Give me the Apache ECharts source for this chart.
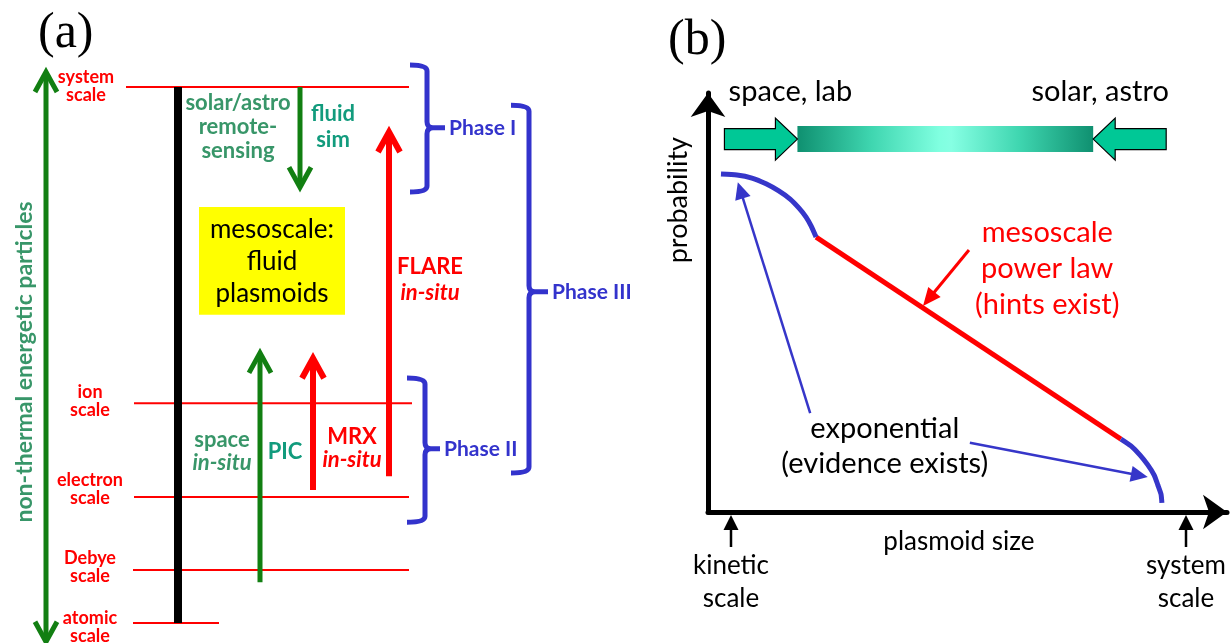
<!DOCTYPE html>
<html><head><meta charset="utf-8">
<script src="https://cdn.jsdelivr.net/npm/echarts@6/dist/echarts.min.js"></script>
<style>html,body{margin:0;padding:0;background:#fff}#c{width:1230px;height:643px}</style>
</head><body><div id="c"></div>
<script>
// ================= DATA =================
// Panel (a): physical scale levels (0 = atomic scale, 100 = system scale)
const scaleNames   = ['system\nscale', 'ion\nscale', 'electron\nscale', 'Debye\nscale', 'atomic\nscale'];
const scaleLevels  = [100, 41.0, 23.5, 9.9, 0];
// non-thermal particles span (double arrow), in scale-level units
const particleSpan = [-3.5, 102.8];
const particleLabel = 'non-thermal energetic particles';
// methods: arrow start level -> arrow tip level
const methodNames  = ['fluid\nsim', 'PIC', 'MRX\n{i|in-situ}', 'FLARE\n{i|in-situ}'];
const methodStart  = [100, 7.6, 24.8, 27.4];
const methodTip    = [81.3, 50.4, 49.4, 91.6];
const sideNotes    = ['solar/astro\nremote-\nsensing', 'space\n{i|in-situ}'];
// mesoscale box range (scale-level units)
const mesoRange    = [57.5, 77.6];
const mesoText     = 'mesoscale:\nfluid\nplasmoids';
// phases: bracket top / middle / bottom (scale-level units)
const phaseNames   = ['Phase I', 'Phase II', 'Phase III'];
const phaseTop     = [104.1, 45.7, 96.6];
const phaseMid     = [92.4, 32.5, 61.8];
const phaseBottom  = [80.4, 18.8, 28.0];

// Panel (b): plasmoid size (0 = kinetic scale, 1 = system scale) vs probability
const expLowX   = [-0.022, 0.013, 0.046, 0.077, 0.105, 0.130, 0.149, 0.165, 0.176, 0.187];
const expLowY   = [0.997, 0.994, 0.985, 0.968, 0.947, 0.923, 0.897, 0.870, 0.844, 0.811];
const powerX    = [0.187, 0.857];
const powerY    = [0.811, 0.215];
const expHighX  = [0.857, 0.879, 0.899, 0.916, 0.930, 0.938, 0.945, 0.947];
const expHighY  = [0.215, 0.195, 0.168, 0.139, 0.109, 0.080, 0.053, 0.027];
const sizeTickValues = [0, 1];
const sizeTickNames  = ['kinetic\nscale', 'system\nscale'];
const regimeNames    = ['space, lab', 'solar, astro'];
const bandRange      = [0.146, 0.796];   // mesoscale band reached from both sides
const bandLevel      = 1.10;
const powerLawNote   = 'mesoscale\npower law\n(hints exist)';
const expNote        = 'exponential\n(evidence exists)';

// ================= LAYOUT / STYLE =================
const FONT = 'Lato, "Noto Sans", sans-serif';
const SERIF = '"Liberation Serif", "DejaVu Serif", serif';
const RED = '#ff0000', BLUE = '#3333cc', CBLUE = '#3636c9';
const GREEN = '#127f12', SEA = '#389669', TEAL = '#129b7d';

const LA = {
  scaleLineFrom: [126, 134, 134, 133, 133],
  scaleLineTo:   [409, 412, 409, 409, 219],
  scaleLabelX:   [86, 90, 90, 90, 90],
  scaleLabelDy:  [-1, -2, -8, -3, 4],
  spineX: 178, particleX: 46, particleLabelX: 25, particleLabelLv: 48.7,
  methodX: [300, 260, 313, 389],
  methodColor: [GREEN, GREEN, RED, RED],
  methodWidth: [5, 5, 6, 6],
  methodLabel: [[333, 92.5, TEAL, 26], [285, 31.9, TEAL, 24], [352, 32.6, RED, 23], [430, 64.0, RED, 26]],
  sideNote: [[238, 92.5, 24], [222, 32.1, 23]],
  mesoX: [199, 345],
  phaseX: [[410, 427, 445], [407, 425, 440], [511, 529, 548]],
  phaseLabelX: [449, 444, 552]
};

// ================= HELPERS =================
function txt(p, text, o) {
  return { type: 'text', x: p[0], y: p[1], silent: true,
    style: Object.assign({ text: text, align: 'center', verticalAlign: 'middle', fontFamily: FONT }, o) };
}
function seg(a, b, color, w) {
  return { type: 'line', shape: { x1: a[0], y1: a[1], x2: b[0], y2: b[1] }, style: { stroke: color, lineWidth: w, lineCap: 'butt' } };
}
function chevron(tip, up, color, w) {
  const hw = 11, len = 20, s = up ? 1 : -1;
  return { type: 'polyline', shape: { points: [[tip[0] - hw, tip[1] + s * len], [tip[0], tip[1]], [tip[0] + hw, tip[1] + s * len]] },
    style: { stroke: color, lineWidth: w, fill: null, lineJoin: 'miter', lineCap: 'butt' } };
}
function headArrow(s, t, color, w, len, hw) {
  const dx = t[0] - s[0], dy = t[1] - s[1], L = Math.hypot(dx, dy), ux = dx / L, uy = dy / L;
  const bx = t[0] - ux * len, by = t[1] - uy * len, nx = -uy, ny = ux;
  return [seg(s, [bx + ux, by + uy], color, w),
    { type: 'polygon', shape: { points: [[t[0], t[1]], [bx + nx * hw, by + ny * hw], [bx - nx * hw, by - ny * hw]] }, style: { fill: color } }];
}
function bracketPath(x0, x1, xn, yt, ym, yb) {
  const r = 6;
  return `M${x0},${yt} Q${x1},${yt} ${x1},${yt + r} L${x1},${ym - r} Q${x1},${ym} ${x1 + r},${ym} L${xn},${ym} ` +
         `M${x1 + r},${ym} Q${x1},${ym} ${x1},${ym + r} L${x1},${yb - r} Q${x1},${yb} ${x0},${yb}`;
}

// ================= PANEL (a) =================
function renderA(params, api) {
  const P = (x, lv) => api.coord([x, lv]);
  const ch = [];
  const bold = (size, color, lh) => ({ fill: color, fontSize: size, fontWeight: 'bold', lineHeight: lh,
    rich: { i: { fill: color, fontSize: size, fontWeight: 'bold', fontStyle: 'italic', fontFamily: FONT, lineHeight: lh } } });
  // scale lines and labels
  scaleLevels.forEach((lv, i) => {
    ch.push(seg(P(LA.scaleLineFrom[i], lv), P(LA.scaleLineTo[i], lv), RED, 2));
    const t = P(LA.scaleLabelX[i], lv);
    ch.push(txt([t[0], t[1] + LA.scaleLabelDy[i]], scaleNames[i], bold(18, RED, 18)));
  });
  // spine
  ch.push(seg(P(LA.spineX, scaleLevels[0]), P(LA.spineX, scaleLevels[4]), '#000', 8));
  // mesoscale box
  const m1 = P(LA.mesoX[0], mesoRange[1]), m2 = P(LA.mesoX[1], mesoRange[0]);
  ch.push({ type: 'rect', shape: { x: m1[0], y: m1[1], width: m2[0] - m1[0], height: m2[1] - m1[1] }, style: { fill: '#ffff00' } });
  ch.push(txt([(m1[0] + m2[0]) / 2, (m1[1] + m2[1]) / 2 + 1], mesoText, { fill: '#000', fontSize: 26, lineHeight: 32 }));
  // particle double arrow
  const pt = P(LA.particleX, particleSpan[1]), pb = P(LA.particleX, particleSpan[0]);
  ch.push(seg([pt[0], pt[1] + 2], [pb[0], pb[1] - 2], GREEN, 5));
  ch.push(chevron(pt, true, GREEN, 5));
  ch.push(chevron(pb, false, GREEN, 5));
  const pl = P(LA.particleLabelX, LA.particleLabelLv);
  const ptxt = txt(pl, particleLabel, { fill: SEA, fontSize: 23, fontWeight: 'bold' });
  ptxt.rotation = Math.PI / 2;
  ch.push(ptxt);
  // method arrows
  methodNames.forEach((name, i) => {
    const s = P(LA.methodX[i], methodStart[i]), t = P(LA.methodX[i], methodTip[i]);
    const up = methodTip[i] > methodStart[i];
    ch.push(seg(s, [t[0], t[1] + (up ? 2 : -2)], LA.methodColor[i], LA.methodWidth[i]));
    ch.push(chevron(t, up, LA.methodColor[i], LA.methodWidth[i]));
    const L = LA.methodLabel[i];
    ch.push(txt(P(L[0], L[1]), name, bold(22, L[2], L[3])));
  });
  // side notes
  sideNotes.forEach((n, i) => {
    const L = LA.sideNote[i];
    ch.push(txt(P(L[0], L[1]), n, bold(22, SEA, L[2])));
  });
  // phase brackets
  phaseNames.forEach((n, i) => {
    const X = LA.phaseX[i];
    const yt = P(0, phaseTop[i])[1], ym = P(0, phaseMid[i])[1], yb = P(0, phaseBottom[i])[1];
    ch.push({ type: 'path', shape: { pathData: bracketPath(X[0], X[1], X[2], yt, ym, yb) },
      style: { stroke: BLUE, lineWidth: 5, fill: null, lineJoin: 'round' } });
    ch.push(txt([LA.phaseLabelX[i], ym], n, { fill: BLUE, fontSize: 21, fontWeight: 'bold', align: 'left' }));
  });
  return { type: 'group', children: ch };
}

// ================= PANEL (b) decorations =================
function renderB(params, api) {
  const P = (x, y) => api.coord([x, y]);
  const ch = [];
  // gradient band and converging block arrows
  const b1 = P(bandRange[0], bandLevel), b2 = P(bandRange[1], bandLevel);
  ch.push({ type: 'rect', shape: { x: b1[0], y: b1[1] - 13, width: b2[0] - b1[0], height: 26 },
    style: { fill: new echarts.graphic.LinearGradient(0, 0, 1, 0, [
      { offset: 0, color: '#0f9070' }, { offset: 0.25, color: '#3fd6b0' }, { offset: 0.48, color: '#80ffe0' },
      { offset: 0.52, color: '#86ffe3' }, { offset: 0.75, color: '#3fd6b0' }, { offset: 1, color: '#0f9070' }]) } });
  const blockArrow = (tip, dir) => {
    const x = tip[0], y = tip[1], tail = x - dir * 73, hb = x - dir * 22;
    return { type: 'polygon', shape: { points: [[tail, y - 10.5], [hb, y - 10.5], [hb, y - 21], [x, y], [hb, y + 21], [hb, y + 10.5], [tail, y + 10.5]] },
      style: { fill: '#00c896', stroke: '#000', lineWidth: 1.2 } };
  };
  ch.push(blockArrow(b1, 1));
  ch.push(blockArrow(b2, -1));
  ch.push(txt([b1[0] - 7, b1[1] - 47], regimeNames[0], { fill: '#000', fontSize: 29 }));
  ch.push(txt([b2[0] + 7, b2[1] - 47], regimeNames[1], { fill: '#000', fontSize: 29 }));
  // size ticks (little up-arrows) below the axis
  sizeTickValues.forEach((v) => {
    const p = P(v, 0);
    ch.push(...headArrow([p[0], p[1] + 35], [p[0], p[1] + 3], '#000', 2.5, 15, 7.5));
  });
  // notes
  ch.push(txt(P(0.695, 0.717), powerLawNote, { fill: RED, fontSize: 29, lineHeight: 36 }));
  ch.push(...headArrow(P(0.523, 0.773), P(0.422, 0.608), RED, 3, 18, 8));
  ch.push(txt(P(0.338, 0.195), expNote, { fill: '#000', fontSize: 29, lineHeight: 35 }));
  ch.push(...headArrow(P(0.174, 0.292), P(0.015, 0.973), CBLUE, 2.5, 17, 8));
  ch.push(...headArrow(P(0.525, 0.204), P(0.916, 0.103), CBLUE, 2.5, 17, 8));
  // axis titles
  ch.push(txt(P(0.501, -0.088), 'plasmoid size', { fill: '#000', fontSize: 26 }));
  const prt = txt(P(-0.116, 0.92), 'probability', { fill: '#000', fontSize: 27 });
  prt.rotation = Math.PI / 2;
  ch.push(prt);
  return { type: 'group', children: ch };
}

const zip = (a, b) => a.map((v, i) => [v, b[i]]);
const hidden = { show: false };

const option = {
  animation: false,
  backgroundColor: '#fff',
  title: [
    { text: '(a)', left: 33, top: 4, textStyle: { fontFamily: SERIF, fontSize: 50, fontWeight: 'normal', color: '#000' } },
    { text: '(b)', left: 663, top: 11, textStyle: { fontFamily: SERIF, fontSize: 50, fontWeight: 'normal', color: '#000' } }
  ],
  grid: [
    { left: 0, width: 660, top: 87, height: 536 },
    { left: 708, right: 3, top: 93, bottom: 131 }
  ],
  xAxis: [
    { type: 'value', gridIndex: 0, min: 0, max: 660, show: false },
    { type: 'value', gridIndex: 1, min: -0.05055, max: 1.0901,
      axisLine: { show: true, onZero: false, symbol: ['none', 'arrow'], symbolSize: [26, 24], lineStyle: { color: '#000', width: 5 } },
      axisTick: hidden, splitLine: hidden,
      axisLabel: { show: true, customValues: sizeTickValues, margin: 37, fontFamily: FONT, fontSize: 26, lineHeight: 33, color: '#000',
        formatter: (v) => { const k = sizeTickValues.indexOf(v); return k >= 0 ? sizeTickNames[k] : ''; } } }
  ],
  yAxis: [
    { type: 'value', gridIndex: 0, min: 0, max: 100, show: false },
    { type: 'value', gridIndex: 1, min: 0, max: 1.236,
      axisLine: { show: true, onZero: false, symbol: ['none', 'arrow'], symbolSize: [26, 24], lineStyle: { color: '#000', width: 5 } },
      axisTick: hidden, splitLine: hidden, axisLabel: hidden }
  ],
  series: [
    { type: 'custom', xAxisIndex: 0, yAxisIndex: 0, data: [[0, 0]], renderItem: renderA, silent: true },
    { type: 'line', xAxisIndex: 1, yAxisIndex: 1, data: zip(powerX, powerY), showSymbol: false, silent: true,
      lineStyle: { color: RED, width: 5, cap: 'butt' } },
    { type: 'line', xAxisIndex: 1, yAxisIndex: 1, data: zip(expLowX, expLowY), smooth: 0.2, showSymbol: false, silent: true,
      lineStyle: { color: CBLUE, width: 5, cap: 'butt', join: 'round' } },
    { type: 'line', xAxisIndex: 1, yAxisIndex: 1, data: zip(expHighX, expHighY), smooth: 0.2, showSymbol: false, silent: true,
      lineStyle: { color: CBLUE, width: 5, cap: 'butt', join: 'round' } },
    { type: 'custom', xAxisIndex: 1, yAxisIndex: 1, data: [[0, 0]], renderItem: renderB, silent: true }
  ]
};
const chart = echarts.init(document.getElementById('c'));
chart.setOption(option);
</script>
</body></html>
